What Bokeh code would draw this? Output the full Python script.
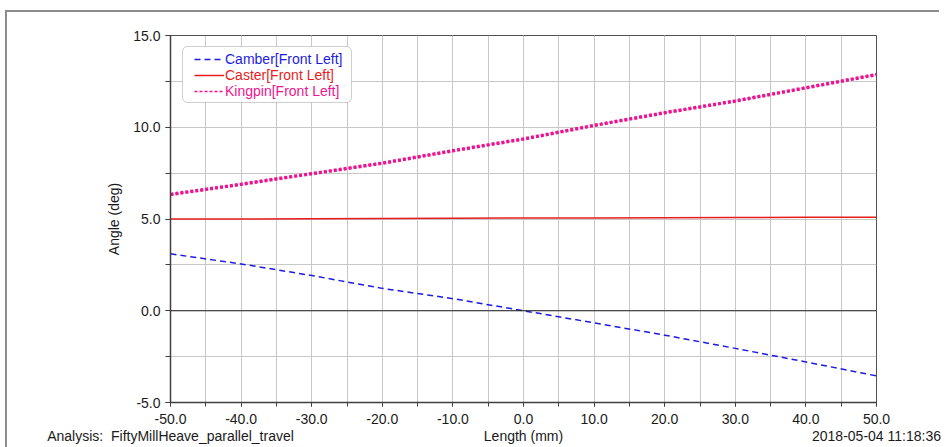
from bokeh.plotting import figure
from bokeh.models import (Legend, LegendItem, BoxAnnotation, Span, Range1d, LinearAxis,
                          FixedTicker, SingleIntervalTicker, PrintfTickFormatter,
                          InlineStyleSheet)
from bokeh.embed import file_html
from bokeh.resources import INLINE

# ---- data ----
length_mm = [-50, -40, -30, -20, -10, 0, 10, 20, 30, 40, 50]
camber = [3.10, 2.55, 1.92, 1.22, 0.66, 0.0, -0.66, -1.33, -2.05, -2.79, -3.55]
caster = [5.00, 5.00, 5.02, 5.03, 5.04, 5.05, 5.06, 5.07, 5.08, 5.09, 5.10]
kingpin = [6.34, 6.89, 7.47, 8.04, 8.72, 9.36, 10.10, 10.79, 11.43, 12.15, 12.87]
series_names = ["Camber[Front Left]", "Caster[Front Left]", "Kingpin[Front Left]"]
series_colors = ["#1c1ce0", "#e81c1c", "#ee1490"]
x_label = "Length (mm)"
y_label = "Angle (deg)"
analysis_text = "Analysis:\u00a0 FiftyMillHeave_parallel_travel"
date_text = "2018-05-04 11:18:36"
x_min, x_max = -50, 50
y_min, y_max = -5, 15

FONT = "Liberation Sans"

p = figure(width=951, height=447, output_backend="svg", toolbar_location=None,
           x_range=Range1d(x_min, x_max), y_range=Range1d(y_min, y_max),
           min_border_left=170, min_border_right=75, min_border_top=35,
           min_border_bottom=45, background_fill_color="white",
           border_fill_color=None)

# outer page frame line (left + top) via inset shadows on the host element only
p.stylesheets = [InlineStyleSheet(css=(
    ":host { background-color: white; overflow: hidden; "
    "box-shadow: inset -12px 0 0 0 white, inset 5px 10px 0 0 white, "
    "inset 7px 12px 0 0 #8c8c8c; }"))]

p.outline_line_color = "#505050"
p.outline_line_width = 1

# axes
p.xaxis.ticker = SingleIntervalTicker(interval=10, num_minor_ticks=2)
p.yaxis.ticker = SingleIntervalTicker(interval=5, num_minor_ticks=2)
p.xaxis.formatter = PrintfTickFormatter(format="%.1f")
p.yaxis.formatter = PrintfTickFormatter(format="%.1f")
for ax in (p.xaxis, p.yaxis):
    ax.axis_line_color = "#404040"
    ax.axis_line_width = 1.5
    ax.major_tick_line_color = "#404040"
    ax.minor_tick_line_color = "#404040"
    ax.major_tick_in = 0
    ax.minor_tick_in = 0
    ax.major_label_text_font = FONT
    ax.major_label_text_font_size = "14px"
    ax.major_label_text_color = "#1a1a1a"
    ax.axis_label_text_font = FONT
    ax.axis_label_text_font_size = "14px"
    ax.axis_label_text_font_style = "normal"
    ax.axis_label_text_color = "#1a1a1a"
p.xaxis.major_tick_out = 4
p.xaxis.minor_tick_out = 4
p.xaxis.major_label_standoff = 7
p.yaxis.major_tick_out = 5
p.yaxis.minor_tick_out = 5
p.yaxis.major_label_standoff = 5
p.yaxis.axis_label = y_label
p.yaxis.axis_label_standoff = 8

# footer line: analysis name / x label / timestamp under the x axis
footer = LinearAxis(ticker=FixedTicker(ticks=[x_min, (x_min + x_max) / 2, x_max]),
                    major_label_overrides={x_min: analysis_text,
                                           (x_min + x_max) / 2: x_label,
                                           x_max: date_text},
                    axis_line_color=None, major_tick_line_color=None,
                    minor_tick_line_color=None, major_tick_out=0, major_tick_in=0,
                    major_label_standoff=1, major_label_text_font=FONT,
                    major_label_text_font_size="14px",
                    major_label_text_color="#1a1a1a")
p.add_layout(footer, "below")

# grid
for g in (p.xgrid, p.ygrid):
    g.grid_line_color = "#c8c8c8"
    g.minor_grid_line_color = "#c8c8c8"
    g.grid_line_width = 1
    g.minor_grid_line_width = 1
p.xgrid.ticker = p.xaxis[0].ticker
p.ygrid.ticker = p.yaxis[0].ticker

p.add_layout(Span(location=0, dimension="width", line_color="#202020", line_width=1))

# data lines
r_king_leg = p.line(length_mm, kingpin, line_color=series_colors[2], line_width=1.5,
                    line_dash="3 2")
r_camber = p.line(length_mm, camber, line_color=series_colors[0], line_width=1.5,
                  line_dash="6 4")
r_caster = p.line(length_mm, caster, line_color=series_colors[1], line_width=1.5)
r_king = p.line(length_mm, kingpin, line_color=series_colors[2], line_width=3.5,
                line_dash="3 2")

# legend box
p.add_layout(BoxAnnotation(left=12, right=181, top=356, bottom=300,
                           left_units="screen", right_units="screen",
                           top_units="screen", bottom_units="screen",
                           fill_color="white", fill_alpha=1.0,
                           line_color="#606060", line_width=1, border_radius=5))

leg_renderers = [r_camber, r_caster, r_king_leg]
for i, (name, col, rr) in enumerate(zip(series_names, series_colors, leg_renderers)):
    lg = Legend(items=[LegendItem(label=name, renderers=[rr])],
                location=(24, 335 - 16 * i), padding=0, margin=0, spacing=0,
                glyph_width=30, glyph_height=16, label_height=16,
                label_standoff=1, border_line_alpha=0, background_fill_alpha=0,
                label_text_font=FONT, label_text_font_size="14px",
                label_text_color=col)
    p.add_layout(lg)

open("out.html", "w").write(file_html(p, INLINE))
